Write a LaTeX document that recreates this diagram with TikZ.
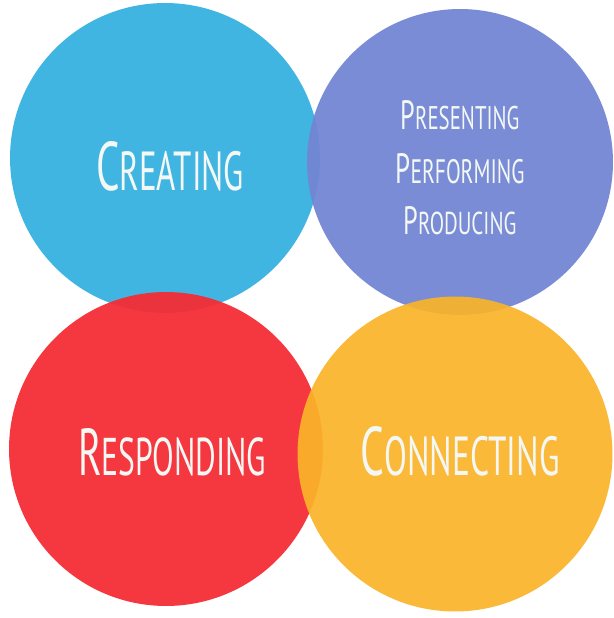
\documentclass[tikz,border=0pt]{standalone}
\usepackage{fontspec}
\setmainfont{PT Sans}
\definecolor{crblue}{RGB}{64,181,226}
\definecolor{prpurple}{RGB}{115,134,212}
\definecolor{rsred}{RGB}{245,45,54}
\definecolor{cnorange}{RGB}{250,180,41}
\definecolor{lbltext}{RGB}{244,248,244}
% small caps label squeezed into a box of given width and cap height
\newcommand{\caplbl}[4]{\resizebox{#1}{#2}{{\fontsize{30}{30}\selectfont #3}{\fontsize{24}{24}\selectfont #4}}}
\begin{document}
\begin{tikzpicture}[x=0.02cm, y=-0.02cm,
    blob/.style={circle, draw=none, inner sep=0pt},
    word/.style={text=lbltext, inner sep=0pt}]
    \useasboundingbox[fill=white] (0,0) rectangle (613,618);

    % Circles
    \node[blob, fill=crblue, minimum size=6.2cm] (creating) at (165,158) {};
    \node[blob, fill=prpurple, fill opacity=0.95, minimum size=6.12cm] (presenting) at (460,162) {};
    \node[blob, fill=rsred, fill opacity=0.95, minimum size=6.28cm] (responding) at (166,449) {};
    \node[blob, fill=cnorange, fill opacity=0.92, minimum size=6.3cm] (connecting) at (455,454) {};

    % Labels
    \node[word] (lcreating) at (170,166) {\caplbl{2.96cm}{0.98cm}{C}{REATING}};
    \node[word] (lpresenting) at (460,115) {\caplbl{2.38cm}{0.58cm}{P}{RESENTING}};
    \node[word] (lperforming) at (460,169) {\caplbl{2.58cm}{0.6cm}{P}{ERFORMING}};
    \node[word] (lproducing) at (460,221) {\caplbl{2.26cm}{0.56cm}{P}{RODUCING}};
    \node[word] (lresponding) at (172,452) {\caplbl{3.76cm}{0.94cm}{R}{ESPONDING}};
    \node[word] (lconnecting) at (460,451) {\caplbl{3.98cm}{0.98cm}{C}{ONNECTING}};
\end{tikzpicture}
\end{document}
